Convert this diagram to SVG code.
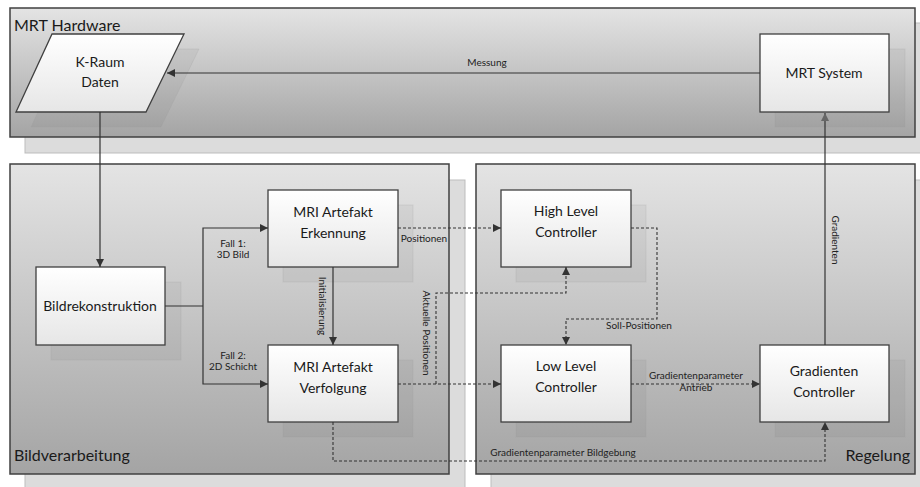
<svg xmlns="http://www.w3.org/2000/svg" width="920" height="487" viewBox="0 0 920 487">
<defs>
<linearGradient id="cg" x1="0" y1="0" x2="0" y2="1"><stop offset="0" stop-color="#e4e4e4"/><stop offset="1" stop-color="#a4a4a4"/></linearGradient>
<linearGradient id="bg" x1="0" y1="0" x2="0" y2="1"><stop offset="0" stop-color="#ffffff"/><stop offset="1" stop-color="#e6e6e6"/></linearGradient>
<marker id="ah" viewBox="0 0 10 10" refX="10" refY="5" markerWidth="8" markerHeight="8" markerUnits="userSpaceOnUse" orient="auto"><path d="M0,0 L10,5 L0,10 z" fill="#333"/></marker>
<marker id="ahg" viewBox="0 0 10 10" refX="10" refY="5" markerWidth="8" markerHeight="8" markerUnits="userSpaceOnUse" orient="auto"><path d="M0,0 L10,5 L0,10 z" fill="#666"/></marker>
</defs>
<style>
.csh{fill:#dcdcdc;stroke:#bdbdbd;stroke-width:1}
.cont{fill:url(#cg);stroke:#404040;stroke-width:1.5}
.bsh{fill:#000;fill-opacity:0.04;stroke:#999;stroke-opacity:0.2}
.box{fill:url(#bg);stroke:#404040;stroke-width:1.3}
.t{font-family:Lato,"Liberation Sans",sans-serif;fill:#1a1a1a}
.title{font-size:16px}
.bt{font-size:14px;text-anchor:middle}
.lb{font-size:10px;fill:#222}
.ln{fill:none;stroke:#333;stroke-width:1.2}
.dl{fill:none;stroke:#333;stroke-width:1.1;stroke-dasharray:3,2}
</style>
<!-- container shadows -->
<rect class="csh" x="25" y="23" width="900" height="130"/>
<rect class="csh" x="25" y="180" width="440" height="315"/>
<rect class="csh" x="491" y="180" width="440" height="315"/>
<!-- containers -->
<g id="mrt-hardware">
<rect class="cont" x="10" y="8" width="905" height="129"/>
<text class="t title" x="14" y="31">MRT Hardware</text>
</g>
<g id="bildverarbeitung">
<rect class="cont" x="10" y="164" width="439" height="310"/>
<text class="t title" x="14" y="461">Bildverarbeitung</text>
</g>
<g id="regelung">
<rect class="cont" x="476" y="164" width="439" height="310"/>
<text class="t title" x="910" y="461" text-anchor="end">Regelung</text>
</g>
<!-- nodes -->
<g id="kraum">
<polygon class="bsh" points="67,49 199,49 161,127 31,127"/>
<polygon class="box" points="52,34 184,34 146,112 16,112"/>
<text class="t bt" x="100" y="67">K-Raum</text>
<text class="t bt" x="100" y="87">Daten</text>
</g>
<g id="mrt-system">
<rect class="bsh" x="775" y="49" width="130" height="78"/>
<rect class="box" x="760" y="34" width="129" height="78"/>
<text class="t bt" x="824" y="78">MRT System</text>
</g>
<g id="bildrekonstruktion">
<rect class="bsh" x="51" y="282" width="130" height="78"/>
<rect class="box" x="36" y="267" width="129" height="78"/>
<text class="t bt" x="100" y="311">Bildrekonstruktion</text>
</g>
<g id="erkennung">
<rect class="bsh" x="283" y="205" width="130" height="77"/>
<rect class="box" x="268" y="190" width="130" height="77"/>
<text class="t bt" x="333" y="217">MRI Artefakt</text>
<text class="t bt" x="333" y="238">Erkennung</text>
</g>
<g id="verfolgung">
<rect class="bsh" x="283" y="360" width="130" height="77"/>
<rect class="box" x="268" y="345" width="130" height="77"/>
<text class="t bt" x="333" y="372">MRI Artefakt</text>
<text class="t bt" x="333" y="393">Verfolgung</text>
</g>
<g id="high-level">
<rect class="bsh" x="516" y="205" width="130" height="77"/>
<rect class="box" x="501" y="190" width="130" height="77"/>
<text class="t bt" x="566" y="216">High Level</text>
<text class="t bt" x="566" y="237">Controller</text>
</g>
<g id="low-level">
<rect class="bsh" x="516" y="360" width="130" height="77"/>
<rect class="box" x="501" y="345" width="130" height="77"/>
<text class="t bt" x="566" y="371">Low Level</text>
<text class="t bt" x="566" y="392">Controller</text>
</g>
<g id="gradienten-controller">
<rect class="bsh" x="775" y="360" width="130" height="77"/>
<rect class="box" x="760" y="345" width="129" height="77"/>
<text class="t bt" x="824" y="376">Gradienten</text>
<text class="t bt" x="824" y="397">Controller</text>
</g>
<!-- connectors -->
<g id="connectors">
<line class="ln" x1="760" y1="73" x2="167" y2="73" marker-end="url(#ah)"/>
<text class="t lb" x="487" y="66" text-anchor="middle">Messung</text>
<line class="ln" x1="100" y1="112" x2="100" y2="267" marker-end="url(#ah)"/>
<line class="ln" x1="825" y1="345" x2="825" y2="113" marker-end="url(#ahg)"/>
<text class="t lb" transform="translate(832,240) rotate(90)" text-anchor="middle">Gradienten</text>
<polyline class="ln" points="165,306 203,306"/>
<polyline class="ln" points="203,306 203,228 268,228" marker-end="url(#ah)"/>
<polyline class="ln" points="203,306 203,384 268,384" marker-end="url(#ah)"/>
<text class="t lb" x="233" y="247" text-anchor="middle">Fall 1:</text>
<text class="t lb" x="233" y="258" text-anchor="middle">3D Bild</text>
<text class="t lb" x="233" y="359" text-anchor="middle">Fall 2:</text>
<text class="t lb" x="233" y="370" text-anchor="middle">2D Schicht</text>
<line class="ln" x1="333" y1="267" x2="333" y2="345" marker-end="url(#ah)"/>
<text class="t lb" transform="translate(319,306) rotate(90)" text-anchor="middle">Initialisierung</text>
<line class="dl" x1="398" y1="228" x2="501" y2="228" marker-end="url(#ah)"/>
<text class="t lb" x="424" y="242" text-anchor="middle">Positionen</text>
<line class="dl" x1="398" y1="384" x2="501" y2="384" marker-end="url(#ah)"/>
<polyline class="dl" points="436,384 436,293 566,293 566,267" marker-end="url(#ah)"/>
<text class="t lb" transform="translate(423,333) rotate(90)" text-anchor="middle">Aktuelle Positionen</text>
<polyline class="dl" points="631,228 657,228 657,319 566,319 566,345" marker-end="url(#ah)"/>
<text class="t lb" x="639" y="329" text-anchor="middle">Soll-Positionen</text>
<line class="dl" x1="631" y1="384" x2="760" y2="384" marker-end="url(#ah)"/>
<text class="t lb" x="696" y="379" text-anchor="middle">Gradientenparameter</text>
<text class="t lb" x="696" y="391" text-anchor="middle">Antrieb</text>
<polyline class="dl" points="333,422 333,461 825,461 825,422" marker-end="url(#ah)"/>
<text class="t lb" x="563" y="456" text-anchor="middle">Gradientenparameter Bildgebung</text>
</g>
</svg>
